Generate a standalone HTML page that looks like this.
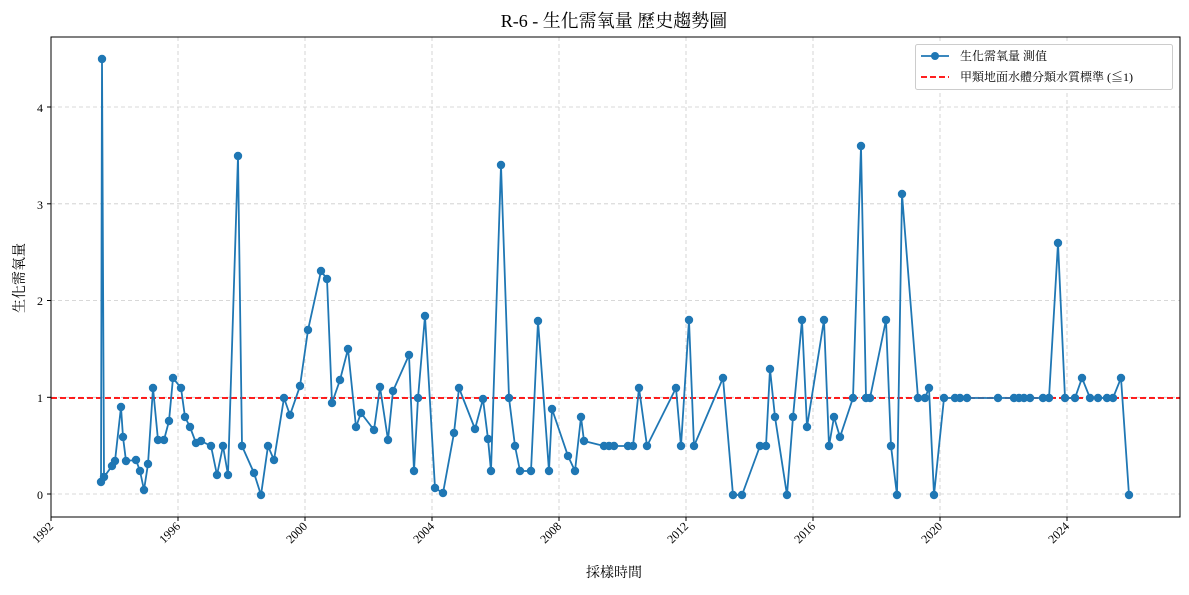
<!DOCTYPE html>
<html><head><meta charset="utf-8"><style>
body{margin:0;background:#fff}
svg text{font-family:"Liberation Serif","Noto Serif CJK TC","Noto Sans CJK TC",serif;fill:#000}
</style></head><body>
<svg width="1189" height="590" viewBox="0 0 1189 590" xmlns="http://www.w3.org/2000/svg">
<rect width="1189" height="590" fill="#fff"/>
<g stroke="#cccccc" stroke-width="0.8" stroke-dasharray="4,3">
<line x1="51" y1="37" x2="51" y2="517"/><line x1="178" y1="37" x2="178" y2="517"/><line x1="305" y1="37" x2="305" y2="517"/><line x1="432" y1="37" x2="432" y2="517"/><line x1="559" y1="37" x2="559" y2="517"/><line x1="686" y1="37" x2="686" y2="517"/><line x1="813" y1="37" x2="813" y2="517"/><line x1="940" y1="37" x2="940" y2="517"/><line x1="1067" y1="37" x2="1067" y2="517"/>
<line x1="51" y1="494" x2="1180" y2="494"/><line x1="51" y1="397.3" x2="1180" y2="397.3"/><line x1="51" y1="300.5" x2="1180" y2="300.5"/><line x1="51" y1="203.8" x2="1180" y2="203.8"/><line x1="51" y1="107" x2="1180" y2="107"/>
</g>
<line x1="51" y1="398" x2="1180" y2="398" stroke="#ff0000" stroke-width="1.8" stroke-dasharray="6,3"/>
<polyline fill="none" stroke="#1f77b4" stroke-width="1.8" points="101,482 102,59 104,477 112,466 115,461 121,407 123,437 126,461 136,460 140,471 144,490 148,464 153,388 158,440 164,440 169,421 173,378 181,388 185,417 190,427 196,443 201,441 211,446 217,475 223,446 228,475 238,156 242,446 254,473 261,495 268,446 274,460 284,398 290,415 300,386 308,330 321,271 327,279 332,403 340,380 348,349 356,427 361,413 374,430 380,387 388,440 393,391 409,355 414,471 418,398 425,316 435,488 443,493 454,433 459,388 475,429 483,399 488,439 491,471 501,165 509,398 515,446 520,471 531,471 538,321 549,471 552,409 568,456 575,471 581,417 584,441 604,446 609,446 614,446 628,446 633,446 639,388 647,446 676,388 681,446 689,320 694,446 723,378 733,495 742,495 760,446 766,446 770,369 775,417 787,495 793,417 802,320 807,427 824,320 829,446 834,417 840,437 853,398 861,146 866,398 870,398 886,320 891,446 897,495 902,194 918,398 925,398 929,388 934,495 944,398 955,398 960,398 967,398 998,398 1014,398 1019,398 1024,398 1030,398 1043,398 1049,398 1058,243 1065,398 1075,398 1082,378 1090,398 1098,398 1107,398 1113,398 1121,378 1129,495"/>
<g fill="#1f77b4" id="pts"></g>
<rect x="51" y="37" width="1129" height="480" fill="none" stroke="#000" stroke-width="1"/>
<g stroke="#000" stroke-width="1">
<line x1="51" y1="517" x2="51" y2="521"/><line x1="178" y1="517" x2="178" y2="521"/><line x1="305" y1="517" x2="305" y2="521"/><line x1="432" y1="517" x2="432" y2="521"/><line x1="559" y1="517" x2="559" y2="521"/><line x1="686" y1="517" x2="686" y2="521"/><line x1="813" y1="517" x2="813" y2="521"/><line x1="940" y1="517" x2="940" y2="521"/><line x1="1067" y1="517" x2="1067" y2="521"/>
<line x1="47" y1="494" x2="51" y2="494"/><line x1="47" y1="397.3" x2="51" y2="397.3"/><line x1="47" y1="300.5" x2="51" y2="300.5"/><line x1="47" y1="203.8" x2="51" y2="203.8"/><line x1="47" y1="107" x2="51" y2="107"/>
</g>
<g font-size="12" text-anchor="end">
<text x="43" y="499">0</text><text x="43" y="402">1</text><text x="43" y="305">2</text><text x="43" y="209">3</text><text x="43" y="112">4</text>
</g>
<g font-size="12" text-anchor="end">
<text transform="translate(54,527) rotate(-45)">1992</text><text transform="translate(181,527) rotate(-45)">1996</text><text transform="translate(308,527) rotate(-45)">2000</text><text transform="translate(435,527) rotate(-45)">2004</text><text transform="translate(562,527) rotate(-45)">2008</text><text transform="translate(689,527) rotate(-45)">2012</text><text transform="translate(816,527) rotate(-45)">2016</text><text transform="translate(943,527) rotate(-45)">2020</text><text transform="translate(1070,527) rotate(-45)">2024</text>
</g>
<text x="614" y="577" font-size="14" text-anchor="middle">採樣時間</text>
<text transform="translate(24,278) rotate(-90)" font-size="14" text-anchor="middle">生化需氧量</text>
<text x="614" y="27" font-size="18" text-anchor="middle">R-6 - 生化需氧量 歷史趨勢圖</text>
<rect x="915.5" y="44.5" width="257" height="45" fill="#fff" stroke="#ccc" rx="2"/>
<line x1="921" y1="56" x2="949" y2="56" stroke="#1f77b4" stroke-width="1.8"/><circle cx="935" cy="56" r="4" fill="#1f77b4"/>
<text x="960" y="60" font-size="12">生化需氧量 測值</text>
<line x1="921" y1="77" x2="949" y2="77" stroke="#ff0000" stroke-width="1.8" stroke-dasharray="6,3"/>
<text x="960" y="81" font-size="12">甲類地面水體分類水質標準 (≦1)</text>
</svg>
<script>
var pl=document.querySelector('polyline').getAttribute('points').trim().split(/\s+/);
var g=document.getElementById('pts'),s='';
pl.forEach(function(p){var a=p.split(',');s+='<circle cx="'+a[0]+'" cy="'+a[1]+'" r="4.2"/>';});
g.innerHTML=s;
</script>
</body></html>
